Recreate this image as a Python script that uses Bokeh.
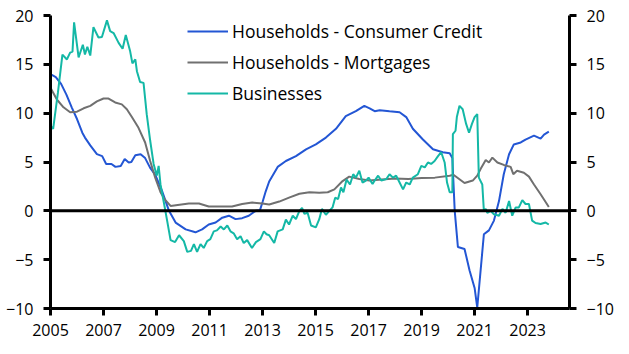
from bokeh.plotting import figure
from bokeh.models import Range1d, LinearAxis, FixedTicker, Span, Legend, LegendItem
from bokeh.embed import file_html
from bokeh.resources import INLINE

# ---- data (annual % change) ----
cc_x = [2005.0, 2005.2, 2005.4, 2005.6, 2005.8, 2006.0, 2006.2, 2006.3, 2006.5, 2006.75, 2006.95,
        2007.1, 2007.3, 2007.45, 2007.65, 2007.8, 2007.95, 2008.05, 2008.2, 2008.4, 2008.57, 2008.76,
        2008.95, 2009.2, 2009.47, 2009.72, 2010.1, 2010.47, 2010.72, 2010.97, 2011.23, 2011.48,
        2011.73, 2011.98, 2012.23, 2012.48, 2012.74, 2012.9, 2013.0, 2013.12, 2013.25, 2013.57,
        2013.88, 2014.26, 2014.64, 2015.01, 2015.39, 2015.77, 2016.14, 2016.52, 2016.84, 2017.04,
        2017.23, 2017.42, 2017.79, 2018.17, 2018.42, 2018.67, 2019.05, 2019.43, 2019.8, 2020.06,
        2020.16, 2020.25, 2020.37, 2020.62, 2020.81, 2021.0, 2021.1, 2021.35, 2021.54, 2021.73,
        2021.92, 2022.1, 2022.3, 2022.48, 2022.74, 2022.92, 2023.24, 2023.49, 2023.62, 2023.8]
cc_y = [14.0, 13.7, 13.0, 11.9, 10.6, 9.4, 8.0, 7.5, 6.7, 5.8, 5.6,
        4.8, 4.8, 4.5, 4.6, 5.3, 4.95, 5.0, 5.7, 5.8, 5.4, 4.4,
        3.7, 2.1, 0.0, -1.2, -1.9, -2.2, -1.9, -1.4, -1.2, -0.7,
        -0.5, -0.85, -0.75, -0.5, 0.0, 0.05, 0.9, 2.0, 3.0, 4.5,
        5.1, 5.6, 6.3, 6.8, 7.5, 8.4, 9.7, 10.2, 10.75, 10.5,
        10.2, 10.3, 10.2, 10.1, 9.6, 8.4, 7.3, 6.3, 6.0, 5.9,
        5.4, 0.0, -3.7, -3.9, -6.1, -7.9, -9.9, -2.4, -2.0, -1.0,
        1.0, 3.75, 5.8, 6.8, 7.0, 7.3, 7.7, 7.4, 7.8, 8.1]

mg_x = [2005.0, 2005.24, 2005.49, 2005.74, 2006.0, 2006.25, 2006.5, 2006.75, 2007.0, 2007.19,
        2007.44, 2007.69, 2007.88, 2008.07, 2008.32, 2008.57, 2008.76, 2008.95, 2009.15, 2009.3,
        2009.53, 2009.8, 2010.22, 2010.6, 2010.97, 2011.48, 2011.85, 2012.23, 2012.61, 2012.99,
        2013.25, 2013.63, 2014.0, 2014.39, 2014.77, 2015.14, 2015.46, 2015.71, 2016.02, 2016.27,
        2016.65, 2017.03, 2017.5, 2018.0, 2018.5, 2019.0, 2019.5, 2020.06, 2020.2, 2020.62,
        2020.93, 2021.1, 2021.23, 2021.42, 2021.54, 2021.67, 2021.86, 2022.1, 2022.36, 2022.46,
        2022.6, 2022.86, 2023.05, 2023.24, 2023.49, 2023.8]
mg_y = [12.6, 11.4, 10.6, 10.1, 10.15, 10.5, 10.75, 11.2, 11.5, 11.5,
        11.1, 10.9, 10.4, 9.6, 8.5, 7.0, 5.1, 3.4, 1.9, 1.2,
        0.5, 0.6, 0.75, 0.75, 0.45, 0.45, 0.45, 0.7, 0.85, 0.75,
        0.65, 0.95, 1.35, 1.75, 1.9, 1.85, 1.9, 2.2, 3.05, 3.5,
        3.25, 3.1, 3.2, 3.3, 3.25, 3.35, 3.4, 3.6, 3.7, 2.85,
        3.1, 3.6, 4.3, 5.2, 4.95, 5.45, 4.95, 4.7, 4.5, 3.75,
        4.1, 3.9, 3.5, 2.7, 1.7, 0.4]

bs_x = [2005.0, 2005.1, 2005.28, 2005.45, 2005.62, 2005.74, 2005.83, 2005.89, 2006.06, 2006.22,
        2006.3, 2006.39, 2006.5, 2006.62, 2006.81, 2006.94, 2007.13, 2007.25, 2007.38, 2007.57,
        2007.72, 2007.84, 2008.0, 2008.09, 2008.2, 2008.26, 2008.38, 2008.51, 2008.63, 2008.76,
        2008.89, 2009.01, 2009.08, 2009.15, 2009.28, 2009.4, 2009.53, 2009.7, 2009.85, 2010.03,
        2010.16, 2010.3, 2010.41, 2010.53, 2010.66, 2010.78, 2010.91, 2011.03, 2011.16, 2011.28,
        2011.42, 2011.54, 2011.67, 2011.79, 2011.91, 2012.04, 2012.17, 2012.29, 2012.42, 2012.6,
        2012.75, 2012.92, 2013.05, 2013.15, 2013.25, 2013.44, 2013.57, 2013.76, 2013.88, 2014.0,
        2014.14, 2014.26, 2014.39, 2014.49, 2014.58, 2014.7, 2014.83, 2015.01, 2015.14, 2015.24,
        2015.39, 2015.52, 2015.64, 2015.74, 2015.85, 2015.96, 2016.05, 2016.17, 2016.3, 2016.42,
        2016.52, 2016.65, 2016.77, 2016.9, 2017.0, 2017.15, 2017.23, 2017.36, 2017.48, 2017.67,
        2017.79, 2017.92, 2018.04, 2018.17, 2018.3, 2018.42, 2018.55, 2018.67, 2018.86, 2018.99,
        2019.12, 2019.24, 2019.36, 2019.49, 2019.62, 2019.74, 2019.87, 2019.96, 2020.06, 2020.16,
        2020.18, 2020.28, 2020.33, 2020.43, 2020.55, 2020.68, 2020.79, 2020.9, 2021.0, 2021.1,
        2021.16, 2021.29, 2021.35, 2021.42, 2021.48, 2021.6, 2021.73, 2021.92, 2022.05, 2022.17,
        2022.3, 2022.42, 2022.55, 2022.67, 2022.8, 2022.92, 2023.05, 2023.17, 2023.3, 2023.49,
        2023.68, 2023.8]
bs_y = [8.7, 8.4, 12.1, 16.0, 15.5, 16.2, 16.3, 19.3, 15.7, 17.0,
        16.0, 16.8, 15.9, 18.8, 17.75, 17.8, 19.5, 18.4, 18.2, 17.2,
        16.6, 18.0, 16.4, 15.1, 15.5, 14.3, 13.2, 13.1, 9.9, 7.2,
        4.8, 3.6, 4.6, 2.7, 0.8, -1.0, -3.0, -3.2, -2.5, -3.1,
        -4.2, -4.1, -3.4, -4.2, -3.4, -3.8, -3.1, -2.9, -2.1, -2.0,
        -1.6, -1.9, -1.5, -2.1, -2.3, -2.9, -2.6, -3.3, -3.0, -3.8,
        -3.2, -2.9, -2.1, -2.4, -2.5, -3.3, -2.1, -1.9, -0.9, -1.4,
        -0.5, -0.85, 0.0, 0.3, -0.3, -0.2, -1.5, -1.7, -0.85, 0.2,
        -0.4, 0.0, 0.35, 1.35, 1.2, 2.4, 1.9, 3.2, 2.7, 3.75,
        3.4, 4.1, 2.9, 3.1, 3.4, 2.75, 3.1, 3.6, 3.1, 3.25,
        3.75, 3.4, 3.6, 2.9, 2.2, 2.9, 2.7, 3.4, 3.75, 4.6,
        4.45, 4.95, 4.8, 5.1, 5.6, 6.0, 4.95, 2.9, 1.9, 1.9,
        7.85, 8.2, 9.6, 10.75, 10.4, 8.9, 8.0, 8.9, 9.6, 9.9,
        3.4, 2.7, 0.0, 0.2, -0.2, 0.0, -0.35, -0.5, 0.2, -0.2,
        1.0, -0.5, 0.35, 0.35, 1.1, 0.7, 0.7, -1.0, -1.25, -1.35,
        -1.2, -1.4]

series_names = ["Households - Consumer Credit", "Households - Mortgages", "Businesses"]
series_colors = ["#2356d4", "#707070", "#14b8a6"]
x_ticks = [2005, 2007, 2009, 2011, 2013, 2015, 2017, 2019, 2021, 2023]
y_ticks = [-10, -5, 0, 5, 10, 15, 20]

FONT = "Open Sans"

p = figure(width=629, height=354, output_backend="svg", toolbar_location=None,
           x_range=Range1d(2005, 2024.58), y_range=Range1d(-10, 20),
           min_border_left=50, min_border_right=60, min_border_top=15, min_border_bottom=46)
p.outline_line_color = None
p.xgrid.visible = False
p.ygrid.visible = False
p.background_fill_color = "white"
p.border_fill_color = "white"


def style_axis(ax):
    ax.axis_line_width = 3
    ax.axis_line_color = "black"
    ax.major_tick_line_width = 3
    ax.major_tick_line_color = "black"
    ax.major_tick_out = 7
    ax.major_tick_in = 0
    ax.minor_tick_line_color = None
    ax.major_label_text_font = FONT
    ax.major_label_text_font_size = "16px"
    ax.major_label_text_color = "black"


p.xaxis.ticker = FixedTicker(ticks=x_ticks)
p.xaxis.major_label_standoff = 8
p.yaxis.ticker = FixedTicker(ticks=y_ticks)
p.yaxis.major_label_standoff = 10
style_axis(p.xaxis[0])
style_axis(p.yaxis[0])

ry = LinearAxis(ticker=FixedTicker(ticks=y_ticks), major_label_standoff=10)
style_axis(ry)
p.add_layout(ry, "right")

p.add_layout(Span(location=0, dimension="width", line_color="black", line_width=3))

renderers = []
for xs, ys, col in [(cc_x, cc_y, series_colors[0]), (mg_x, mg_y, series_colors[1]), (bs_x, bs_y, series_colors[2])]:
    r = p.line(xs, ys, line_color=col, line_width=2)
    renderers.append(r)

legend = Legend(items=[LegendItem(label=n, renderers=[r]) for n, r in zip(series_names, renderers)],
                location=(137, 203))
legend.label_text_font = FONT
legend.label_text_font_size = "17.5px"
legend.label_text_color = "black"
legend.glyph_width = 41
legend.glyph_height = 20
legend.label_height = 20
legend.label_standoff = 4
legend.spacing = 7
legend.padding = 0
legend.margin = 0
legend.border_line_alpha = 0
legend.background_fill_alpha = 0
p.add_layout(legend, "center")

open("out.html", "w").write(file_html(p, INLINE))
